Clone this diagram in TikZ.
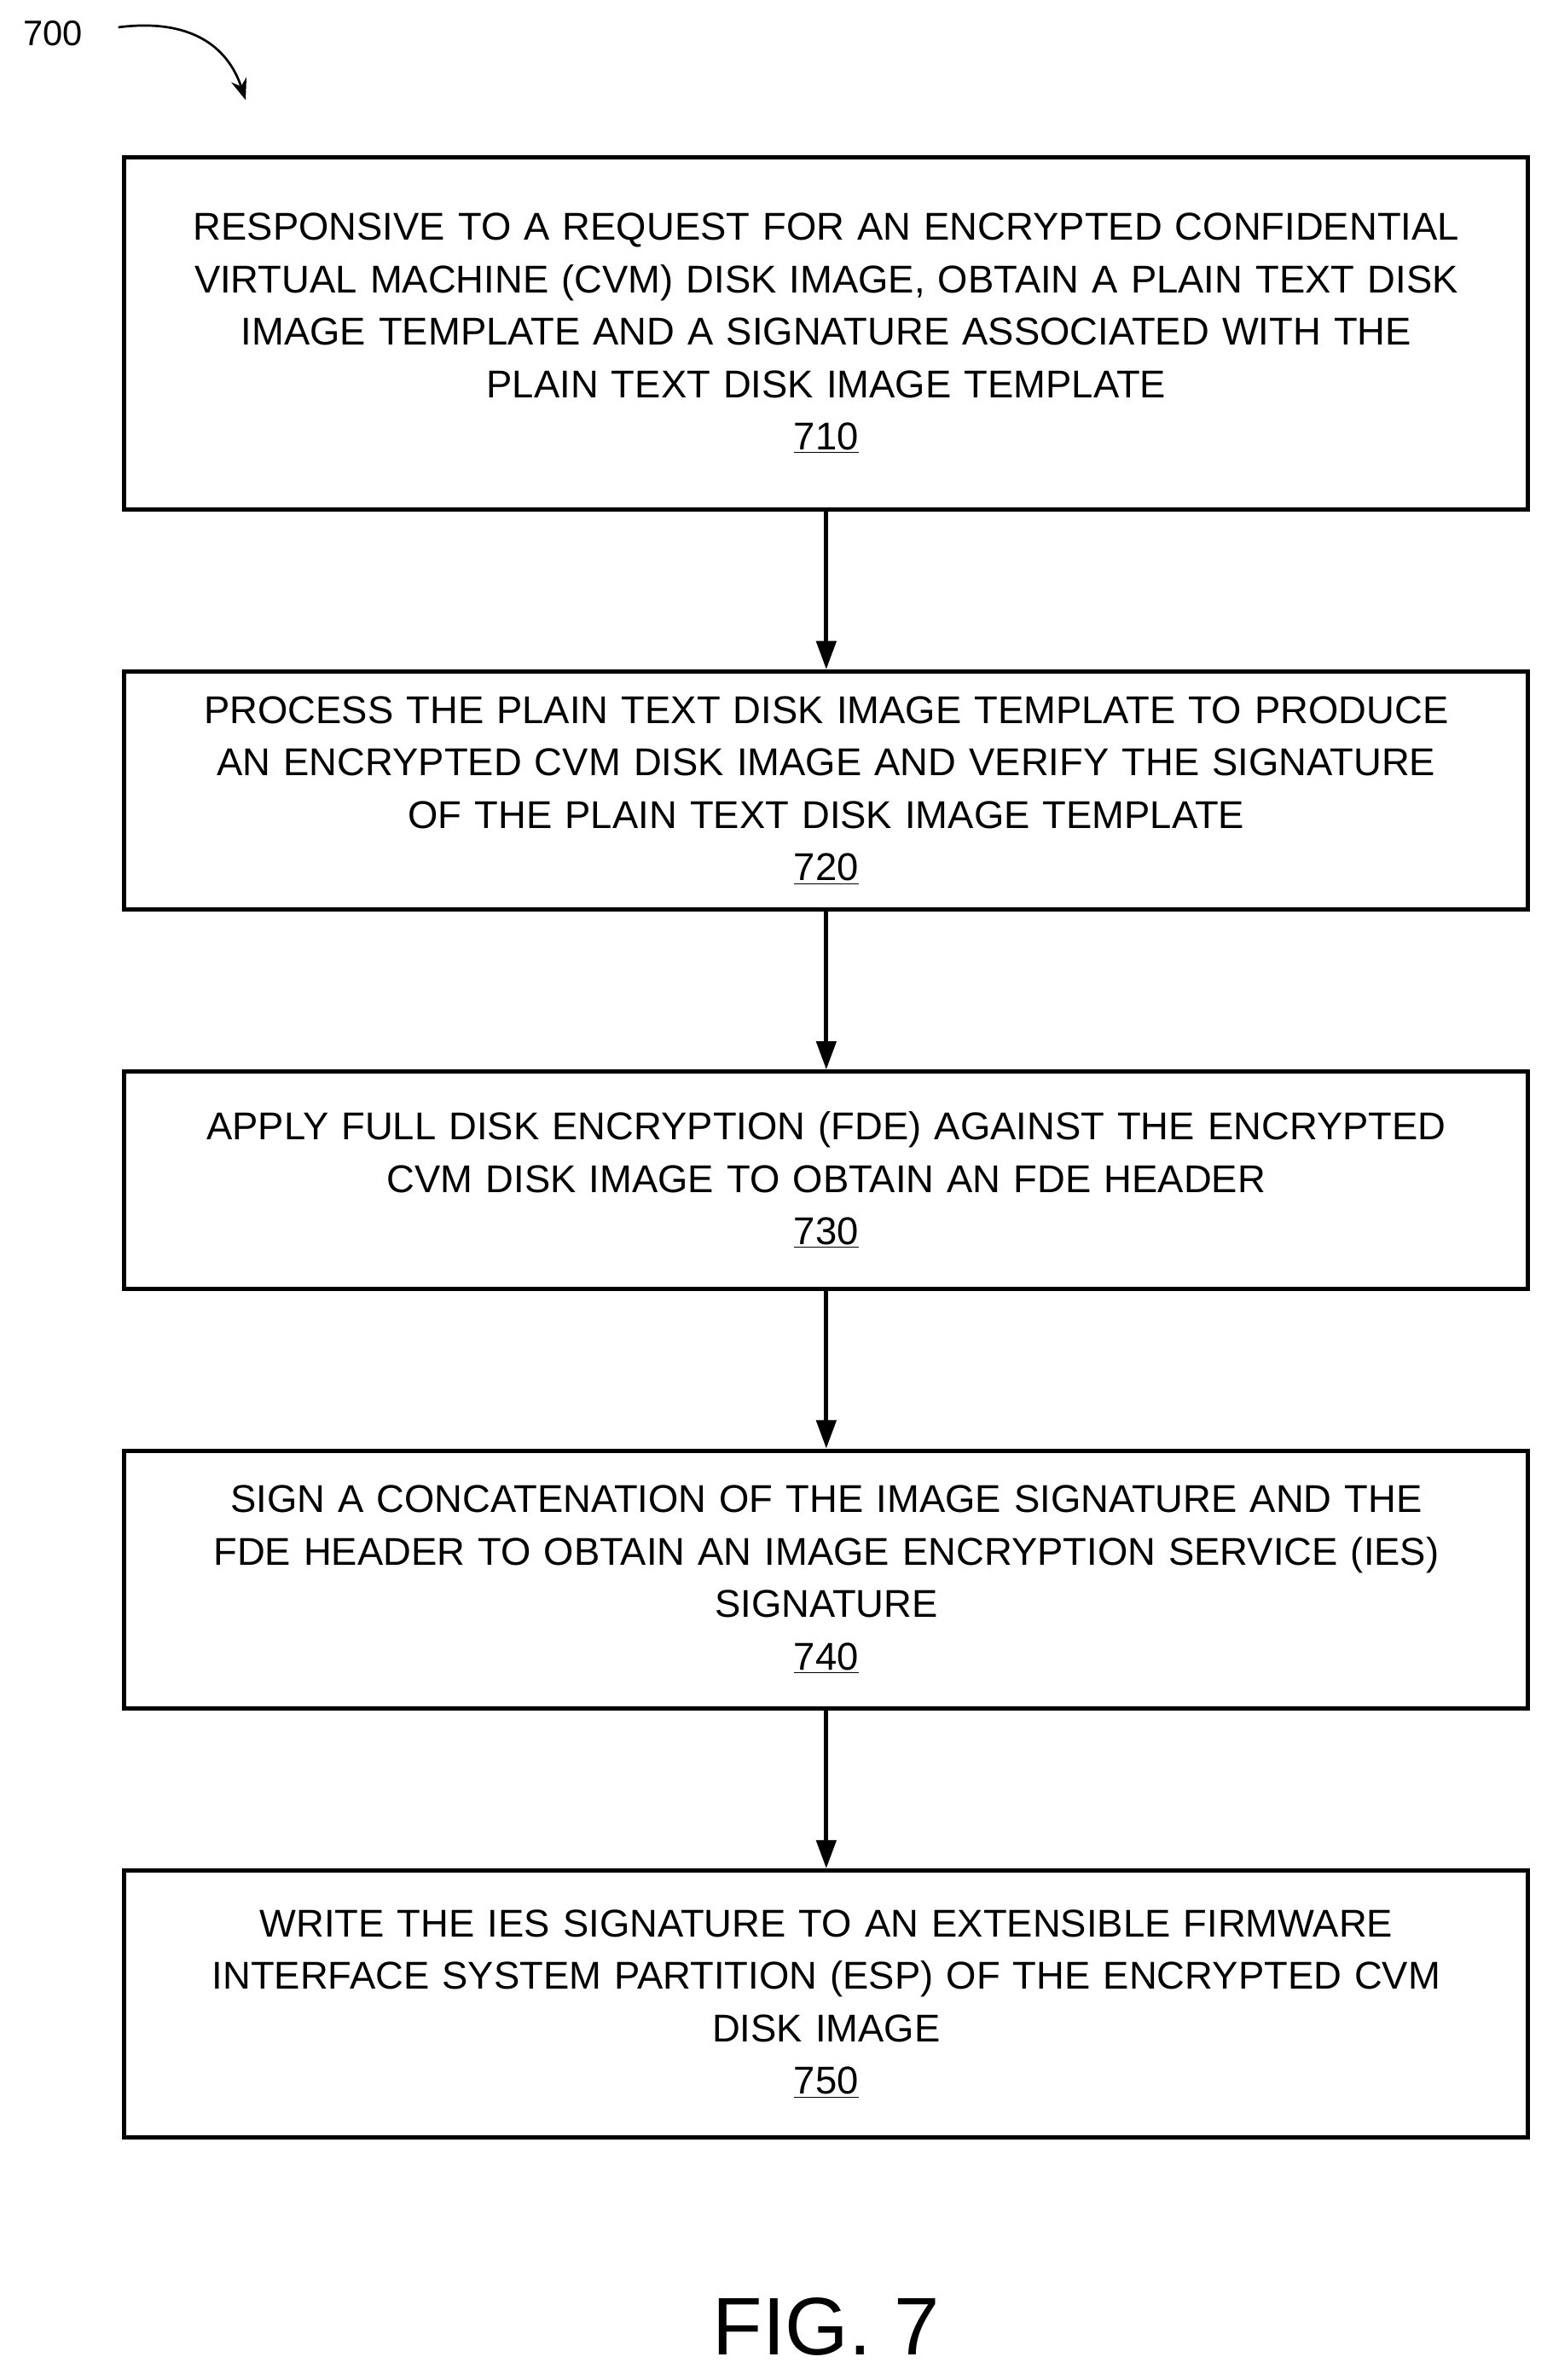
\documentclass[tikz,border=0pt]{standalone}
\usepackage{fontspec}
\setmainfont{Liberation Sans}
\usetikzlibrary{arrows.meta}
\begin{document}
\begin{tikzpicture}[x=0.03cm,y=0.03cm]
    \tikzset{flowbox/.style = {draw, line width=2.4pt, minimum width=27.78cm, text width=27.6cm, align=center, font=\fontsize{21.8}{29.5}\selectfont, inner sep=0pt}}
    \tikzset{edge/.style = {-{Triangle[length=16pt,width=11pt]}, line width=2.4pt}}
    \useasboundingbox (0,0) rectangle (1024,-1570);
    % label
    \node[font=\fontsize{20}{24}\selectfont] (lbl) at (35,-22) {700};
    \coordinate (arrowend) at (162,-66);
    \draw[-{Stealth[length=12pt,width=9pt]}, line width=1.3pt] (78,-18) .. controls (125,-12) and (150,-30) .. (arrowend);
    % boxes
    \node[flowbox, minimum height=6.96cm] (b710) at (545,-220) {RESPONSIVE TO A REQUEST FOR AN ENCRYPTED CONFIDENTIAL\\VIRTUAL MACHINE (CVM) DISK IMAGE, OBTAIN A PLAIN TEXT DISK\\IMAGE TEMPLATE AND A SIGNATURE ASSOCIATED WITH THE\\PLAIN TEXT DISK IMAGE TEMPLATE\\\underline{710}};
    \node[flowbox, minimum height=4.71cm] (b720) at (545,-521.5) {PROCESS THE PLAIN TEXT DISK IMAGE TEMPLATE TO PRODUCE\\AN ENCRYPTED CVM DISK IMAGE AND VERIFY THE SIGNATURE\\OF THE PLAIN TEXT DISK IMAGE TEMPLATE\\\underline{720}};
    \node[flowbox, minimum height=4.29cm] (b730) at (545,-778.5) {APPLY FULL DISK ENCRYPTION (FDE) AGAINST THE ENCRYPTED\\CVM DISK IMAGE TO OBTAIN AN FDE HEADER\\\underline{730}};
    \node[flowbox, minimum height=5.1cm] (b740) at (545,-1042) {SIGN A CONCATENATION OF THE IMAGE SIGNATURE AND THE\\FDE HEADER TO OBTAIN AN IMAGE ENCRYPTION SERVICE (IES)\\SIGNATURE\\\underline{740}};
    \node[flowbox, minimum height=5.28cm] (b750) at (545,-1322) {WRITE THE IES SIGNATURE TO AN EXTENSIBLE FIRMWARE\\INTERFACE SYSTEM PARTITION (ESP) OF THE ENCRYPTED CVM\\DISK IMAGE\\\underline{750}};
    \node[font=\fontsize{46}{50}\selectfont] (fig) at (545,-1535) {FIG. 7};
    % edges
    \draw[edge] (b710) -- (b720);
    \draw[edge] (b720) -- (b730);
    \draw[edge] (b730) -- (b740);
    \draw[edge] (b740) -- (b750);
\end{tikzpicture}
\end{document}
